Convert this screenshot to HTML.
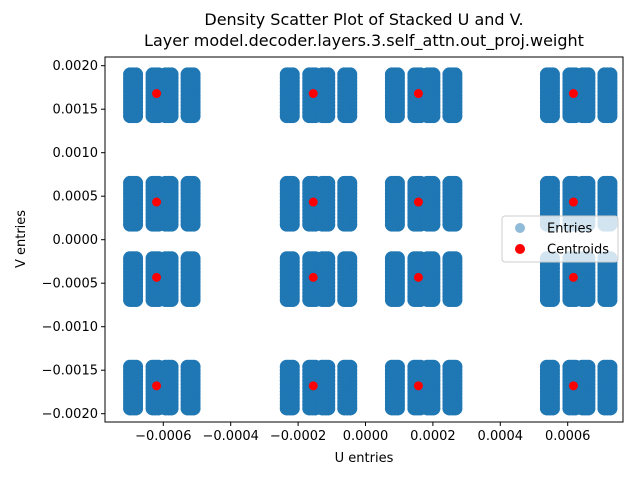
<!DOCTYPE html>
<html><head><meta charset="utf-8"><style>
body{margin:0;background:#fff}
svg text{font-family:"DejaVu Sans","Liberation Sans",sans-serif;fill:#000}
</style></head><body>
<svg id="chart" width="640" height="480">
<g id="marks"></g>
</svg>
<script>
const centroidU=[-0.00062,-0.000155,0.000157,0.000617];
const centroidV=[0.00168,0.000433,-0.000433,-0.00168];
const columnOffsetsU=[-0.0000697,-0.0000608,-0.0000786,-0.000003,0.0000059,-0.0000119,0.0000356,0.0000445,0.0000267,0.0001009,0.0001098,0.000092];
const rowOffsetsV=[0.00022,0.00018,0.00014,0.0001,0.00006,0.00002,-0.00002,-0.00006,-0.0001,-0.00014,-0.00018,-0.00022,-0.00026];
const xTicks=[-0.0006,-0.0004,-0.0002,0,0.0002,0.0004,0.0006];
const xTickLabels=["−0.0006","−0.0004","−0.0002","0.0000","0.0002","0.0004","0.0006"];
const yTicks=[0.002,0.0015,0.001,0.0005,0,-0.0005,-0.001,-0.0015,-0.002];
const yTickLabels=["0.0020","0.0015","0.0010","0.0005","0.0000","−0.0005","−0.0010","−0.0015","−0.0020"];

const L=105,R=623,T=57,B=422;
const sx=v=>365.5+v*337000;
const sy=v=>239.7-v*87000;
const NS="http://www.w3.org/2000/svg";
const svg=document.getElementById('chart');
const g=document.getElementById('marks');
function mk(tag,attrs,parent){const e=document.createElementNS(NS,tag);for(const k in attrs)e.setAttribute(k,attrs[k]);(parent||svg).appendChild(e);return e;}

const eg=mk('g',{},g);


for(const cu of centroidU)for(const cv of centroidV)for(const du of columnOffsetsU)for(const dv of rowOffsetsV){
  const c=mk('circle',{cx:sx(cu+du),cy:sy(cv+dv),r:7,fill:'#1f77b4'},eg);
  
  
}
for(const cu of centroidU)for(const cv of centroidV){
  const c=mk('circle',{cx:sx(cu),cy:sy(cv),r:4.5,fill:'#ff0000'},g);
  
  
}
const fr=mk('rect',{x:L,y:T,width:R-L,height:B-T,fill:'none',stroke:'#000','stroke-width':1});


xTicks.forEach((t,i)=>{
  const x=sx(t);
  mk('line',{x1:x,x2:x,y1:B,y2:B+4,stroke:'#000'});
  const tx=mk('text',{x:x,y:B+18,'text-anchor':'middle','font-size':'13'});
  tx.textContent=xTickLabels[i];
  
  
});
yTicks.forEach((t,i)=>{
  const y=sy(t);
  mk('line',{x1:L-4,x2:L,y1:y,y2:y,stroke:'#000'});
  const tx=mk('text',{x:L-7,y:y+4.5,'text-anchor':'end','font-size':'13'});
  tx.textContent=yTickLabels[i];
  
  
});
</script>
<svg width="640" height="480" style="position:absolute;left:0;top:0">
<text x="364" y="25" text-anchor="middle" font-size="16">Density Scatter Plot of Stacked U and V.</text>
<text x="364" y="46" text-anchor="middle" font-size="16">Layer model.decoder.layers.3.self_attn.out_proj.weight</text>
<text x="364" y="462" text-anchor="middle" font-size="13">U entries</text>
<text x="25" y="239" text-anchor="middle" font-size="13" transform="rotate(-90 25 239)">V entries</text>
<g>
<rect x="502" y="216" width="116" height="46" rx="3" fill="#fff" fill-opacity="0.8" stroke="#ccc"/>
<circle cx="520" cy="228" r="5" fill="#1f77b4" fill-opacity="0.5"/>
<text x="547" y="232.5" font-size="13">Entries</text>
<circle cx="520" cy="249" r="5" fill="#ff0000"/>
<text x="547" y="253.5" font-size="13">Centroids</text>
</g>
</svg>
</body></html>
